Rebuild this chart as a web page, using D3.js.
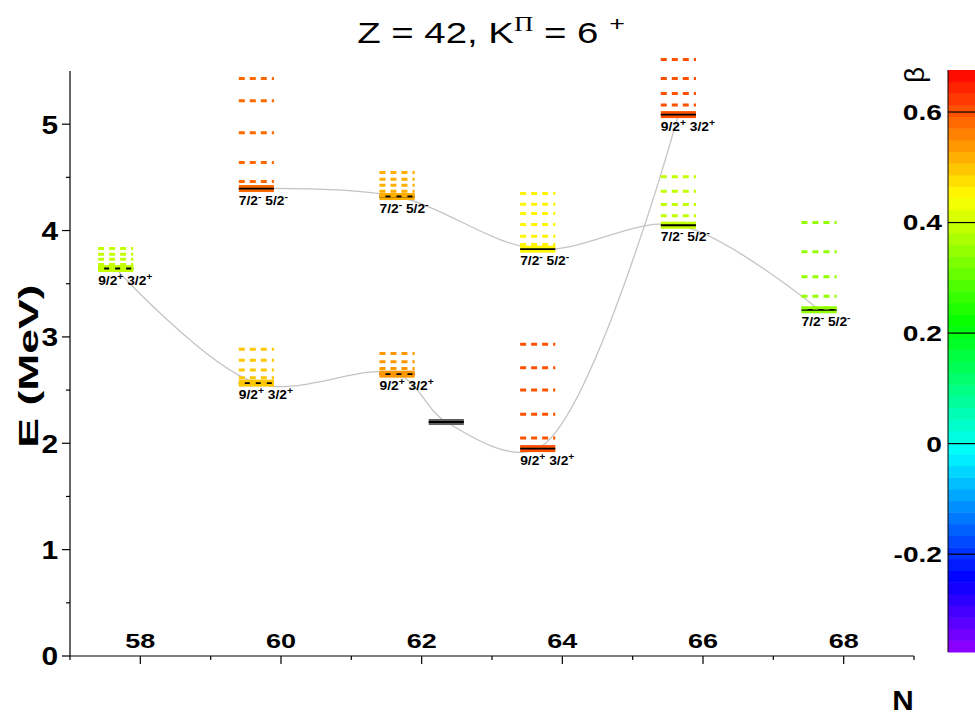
<!DOCTYPE html>
<html><head><meta charset="utf-8">
<script src="https://cdn.jsdelivr.net/npm/d3@7"></script>
<style>
body{margin:0;background:#fff}
svg{display:block}
text{font-family:"Liberation Sans",Arial,Helvetica,sans-serif}
</style>
</head><body>
<svg id="chart" width="975" height="718"></svg>
<script>
// ---------------- data ----------------
const neutrons   = [58, 60, 60, 62, 62, 64, 64, 66, 66, 68];
const bandheads  = [3.643, 4.395, 2.565, 4.320, 2.650, 3.825, 1.950, 5.090, 4.050, 3.255];
const betas      = [0.40, 0.58, 0.50, 0.52, 0.535, 0.46, 0.595, 0.61, 0.40, 0.35];
const spinLabels = ["9/2+ 3/2+", "7/2- 5/2-", "9/2+ 3/2+", "7/2- 5/2-", "9/2+ 3/2+",
                    "7/2- 5/2-", "9/2+ 3/2+", "9/2+ 3/2+", "7/2- 5/2-", "7/2- 5/2-"];
const excitedLevels = [
  [3.643, 3.680, 3.730, 3.778, 3.832],
  [4.460, 4.640, 4.920, 5.220, 5.430],
  [2.565, 2.615, 2.690, 2.780, 2.885],
  [4.325, 4.370, 4.427, 4.483, 4.546],
  [2.655, 2.704, 2.766, 2.845],
  [3.869, 3.947, 4.057, 4.161, 4.248, 4.349],
  [2.050, 2.274, 2.500, 2.710, 2.930],
  [5.180, 5.289, 5.430, 5.608],
  [4.138, 4.245, 4.370, 4.505],
  [3.272, 3.383, 3.565, 3.800, 4.076]
];
const isolatedN = [62];
const isolatedE = [2.20];
const curveA = [0, 2, 4, "iso", 6, 7];
const curveB = [1, 3, 5, 8, 9];
const yTicks = [0, 1, 2, 3, 4, 5];
const yMinorTicks = [0.5, 1.5, 2.5, 3.5, 4.5];
const xTicks = [58, 60, 62, 64, 66, 68];
const xMinorTicks = [57, 59, 61, 63, 65, 67, 69];
const betaTicks = [-0.2, 0, 0.2, 0.4, 0.6];
const betaTickLabels = ["-0.2", "0", "0.2", "0.4", "0.6"];
const betaRange = [-0.377, 0.676];
const nBands = 50;

// ---------------- scales ----------------
const svg = d3.select("#chart");
const x = d3.scaleLinear().domain([57, 69]).range([70, 914]);
const y = d3.scaleLinear().domain([0, 5.5]).range([656, 71]);
const bz = d3.scaleLinear().domain(betaRange).range([652, 70]);
const hue = d3.scaleLinear().domain(betaRange).range([275, 0]);
const bandW = (betaRange[1] - betaRange[0]) / nBands;
function colorOf(b) {
  let k = Math.floor((b - betaRange[0]) / bandW);
  k = Math.max(0, Math.min(nBands - 1, k));
  return d3.hsl(hue(betaRange[0] + (k + 0.5) * bandW), 1, 0.5).formatHex();
}

function stext(g, px, py, sx, rot) {
  return g.append("g").attr("transform", `translate(${px},${py})${rot ? " rotate(" + rot + ")" : ""} scale(${sx},1)`).append("text");
}

// ---------------- curves ----------------
function pt(i) {
  return i === "iso" ? [isolatedN[0] + 0.35, isolatedE[0]] : [neutrons[i] - 0.35, bandheads[i]];
}
const line = d3.line().x(d => x(d[0])).y(d => y(d[1])).curve(d3.curveCatmullRom.alpha(0.5));
[curveA, curveB].forEach(c => {
  svg.append("path").attr("d", line(c.map(pt)))
    .attr("fill", "none").attr("stroke", "#c4c4c4").attr("stroke-width", 1.3);
});

// ---------------- axes ----------------
const ax = svg.append("g").attr("stroke", "#000");
ax.append("line").attr("x1", x(57)).attr("x2", x(57)).attr("y1", y(5.5)).attr("y2", y(0)).attr("stroke-width", 1.2);
ax.append("line").attr("x1", x(57)).attr("x2", x(69)).attr("y1", y(0)).attr("y2", y(0)).attr("stroke-width", 1.2);
yTicks.forEach(t => ax.append("line").attr("x1", x(57) - 8).attr("x2", x(57)).attr("y1", y(t)).attr("y2", y(t)).attr("stroke-width", 1.2));
yMinorTicks.forEach(t => ax.append("line").attr("x1", x(57) - 4).attr("x2", x(57)).attr("y1", y(t)).attr("y2", y(t)).attr("stroke-width", 1.2));
xTicks.forEach(t => ax.append("line").attr("x1", x(t)).attr("x2", x(t)).attr("y1", y(0)).attr("y2", y(0) + 8).attr("stroke-width", 1.2));
xMinorTicks.forEach(t => ax.append("line").attr("x1", x(t)).attr("x2", x(t)).attr("y1", y(0)).attr("y2", y(0) + 4).attr("stroke-width", 1.2));

yTicks.forEach(t => {
  stext(svg, x(57) - 12, y(t), 1.15).attr("text-anchor", "end").attr("dy", "0.36em")
    .attr("font-size", 26).attr("font-weight", "bold").text(d3.format("d")(t));
});
xTicks.forEach(t => {
  stext(svg, x(t), y(0) - 8, 1.35).attr("text-anchor", "middle")
    .attr("font-size", 20).attr("font-weight", "bold").text(t);
});
stext(svg, 28, 366, 1.65, -90).attr("text-anchor", "middle").attr("dy", "0.36em")
  .attr("font-size", 27).attr("font-weight", "bold").text("E (MeV)");
stext(svg, 903, 710, 1.1).attr("text-anchor", "middle")
  .attr("font-size", 27).attr("font-weight", "bold").text("N");

// title
const title = stext(svg, 491, 43, 1.28).attr("text-anchor", "middle").attr("font-size", 30);
title.append("tspan").text("Z = 42, K");
title.append("tspan").attr("font-family", "'Liberation Serif','DejaVu Serif',serif").attr("font-size", 21).attr("dy", -12).text("Π");
title.append("tspan").attr("dy", 12).text(" = 6 ");
title.append("tspan").attr("font-size", 21).attr("dy", -12).text("+");

// ---------------- levels ----------------
const lv = svg.append("g");
neutrons.forEach((n, i) => {
  const c = colorOf(betas[i]);
  const x0 = x(n - 0.6), x1 = x(n - 0.1);
  lv.append("rect").attr("x", x0).attr("width", x1 - x0).attr("y", y(bandheads[i]) - 3.5).attr("height", 7).attr("fill", c);
  lv.append("line").attr("x1", x0).attr("x2", x1).attr("y1", y(bandheads[i])).attr("y2", y(bandheads[i]))
    .attr("stroke", "#000").attr("stroke-width", 1.8);
  excitedLevels[i].forEach(e => {
    lv.append("line").attr("x1", x0).attr("x2", x1).attr("y1", y(e)).attr("y2", y(e))
      .attr("stroke", c).attr("stroke-width", 3).attr("stroke-dasharray", "6,5");
  });
  const parts = spinLabels[i].split(" ");
  const t = stext(lv, x0, y(bandheads[i]) + 16, 1.15).attr("font-size", 12).attr("font-weight", "bold");
  parts.forEach((p, k) => {
    const base = p.slice(0, -1), sign = p.slice(-1);
    t.append("tspan").attr("dy", k === 0 ? 0 : 5).text((k === 0 ? "" : " ") + base);
    t.append("tspan").attr("font-size", 9).attr("dy", -5).text(sign === "-" ? "-" : "+");
  });
});
isolatedN.forEach((n, i) => {
  const x0 = x(n + 0.1), x1 = x(n + 0.6);
  lv.append("rect").attr("x", x0).attr("width", x1 - x0).attr("y", y(isolatedE[i]) - 3).attr("height", 6).attr("fill", "#5e5e5e");
  lv.append("line").attr("x1", x0).attr("x2", x1).attr("y1", y(isolatedE[i])).attr("y2", y(isolatedE[i]))
    .attr("stroke", "#000").attr("stroke-width", 1.8);
});

// ---------------- colour bar ----------------
const cb = svg.append("g");
const cbx = 948;
d3.range(nBands).forEach(k => {
  const b0 = betaRange[0] + k * bandW, b1 = b0 + bandW;
  cb.append("rect").attr("x", cbx).attr("width", 40).attr("y", bz(b1)).attr("height", bz(b0) - bz(b1) + 0.5)
    .attr("fill", colorOf(b0 + bandW / 2));
});
cb.append("line").attr("x1", cbx).attr("x2", cbx).attr("y1", bz(betaRange[1])).attr("y2", bz(betaRange[0])).attr("stroke", "#000").attr("stroke-width", 1);
betaTicks.forEach((t, i) => {
  cb.append("line").attr("x1", cbx).attr("x2", 975).attr("y1", bz(t)).attr("y2", bz(t)).attr("stroke", "#000").attr("stroke-width", 1.2);
  stext(cb, cbx - 6, bz(t), 1.28).attr("text-anchor", "end").attr("dy", "0.36em")
    .attr("font-size", 22).attr("font-weight", "bold").text(betaTickLabels[i]);
});
stext(cb, 924, 75, 1, -90).attr("text-anchor", "middle")
  .attr("font-family", "'Liberation Serif','DejaVu Serif',serif").attr("font-size", 28).text("β");
</script>
</body></html>
